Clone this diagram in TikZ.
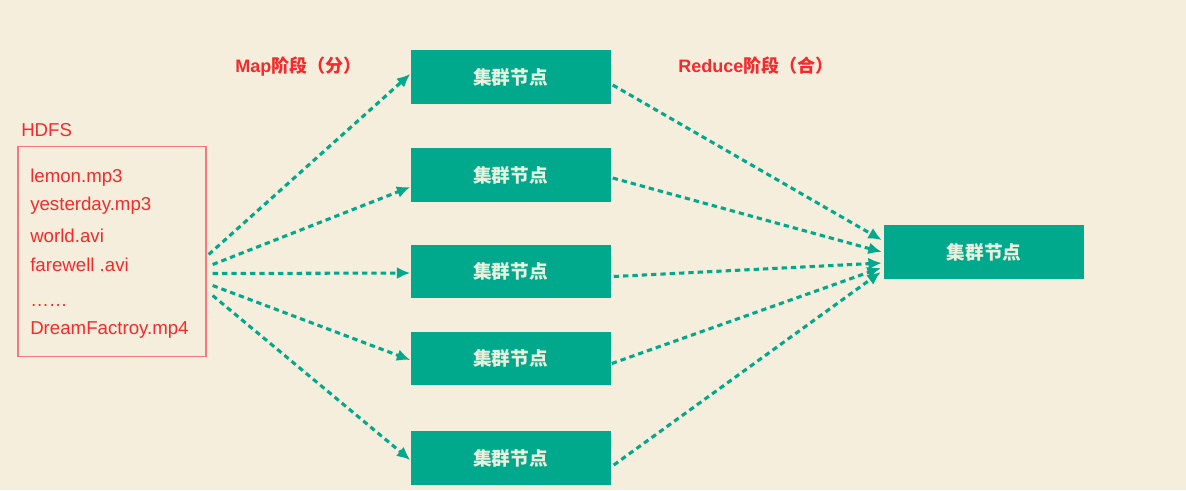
\documentclass[tikz,border=0pt]{standalone}
\usepackage{fontspec}
\setmainfont{Liberation Sans}
\newfontfamily\cjk{Noto Sans CJK SC}
\usetikzlibrary{arrows.meta,positioning}
\definecolor{bgcream}{HTML}{F5EEDC}
\definecolor{clugreen}{HTML}{00A98B}
\definecolor{clutext}{HTML}{E8F1DE}
\definecolor{redtext}{HTML}{F52A2A}
\definecolor{redbox}{HTML}{F27A78}
\begin{document}
\begin{tikzpicture}[
x=0.75pt,
y=-0.75pt,
clu/.style={
  fill=clugreen,
  draw=none,
  text=clutext,
  minimum width=150pt,
  minimum height=40pt,
  inner sep=0pt,
  font=\cjk\bfseries\fontsize{14}{16}\selectfont
  },
fname/.style={
  anchor=base west,
  inner sep=0pt,
  text=redtext,
  font=\fontsize{14}{16}\selectfont
  },
stage/.style={
  anchor=base west,
  inner sep=0pt,
  text=redtext,
  font=\bfseries\fontsize{13.5}{16}\selectfont
  },
flow/.style={
  draw=clugreen,
  line width=2.3pt,
  dash pattern=on 4pt off 3pt,
  -{Latex[length=10pt,width=9pt]}
  }
]
\fill[bgcream] (0,0) rectangle (1186,490);
% HDFS files
\node[fname] (hdfslab) at (21,136) {HDFS};
\node[draw=redbox, line width=1pt, minimum width=141pt, minimum height=157.5pt, inner sep=0pt] (hdfs) at (112,251.5) {};
\node[fname] (f1) at (30,182) {lemon.mp3};
\node[fname] (f2) at (30,210) {yesterday.mp3};
\node[fname] (f3) at (30,242) {world.avi};
\node[fname] (f4) at (30,271) {farewell .avi};
\node[fname] (f5) at (30,306) {……};
\node[fname] (f6) at (30,334) {DreamFactroy.mp4};
% stages
\node[stage] (map) at (235,72) {Map{\cjk 阶段（分）}};
\node[stage] (reduce) at (678,72) {Reduce{\cjk 阶段（合）}};
% cluster nodes
\node[clu] (n1) at (510.5,77) {集群节点};
\node[clu] (n2) at (510.5,175) {集群节点};
\node[clu] (n3) at (510.5,271.5) {集群节点};
\node[clu] (n4) at (510.5,358.5) {集群节点};
\node[clu] (n5) at (510.5,458) {集群节点};
\node[clu] (r) at (984,252) {集群节点};
% map
\draw[flow] ([shift={(2,3)}]hdfs.east) -- ([shift={(0,-3)}]n1.west);
\draw[flow] ([shift={(6,13)}]hdfs.east) -- ([shift={(0,12)}]n2.west);
\draw[flow] ([shift={(6,22)}]hdfs.east) -- ([shift={(0,1.5)}]n3.west);
\draw[flow] ([shift={(6,34)}]hdfs.east) -- ([shift={(0,1.5)}]n4.west);
\draw[flow] ([shift={(6,44)}]hdfs.east) -- ([shift={(0,2)}]n5.west);
% reduce
\draw[flow] ([shift={(2,8)}]n1.east) -- ([shift={(-2,-12)}]r.west);
\draw[flow] ([shift={(2,3)}]n2.east) -- ([shift={(-2,0)}]r.west);
\draw[flow] ([shift={(3,5)}]n3.east) -- ([shift={(-2,11)}]r.west);
\draw[flow] ([shift={(1,5)}]n4.east) -- ([shift={(-3,16)}]r.west);
\draw[flow] ([shift={(3,7)}]n5.east) -- ([shift={(-3,20)}]r.west);
\end{tikzpicture}
\end{document}
